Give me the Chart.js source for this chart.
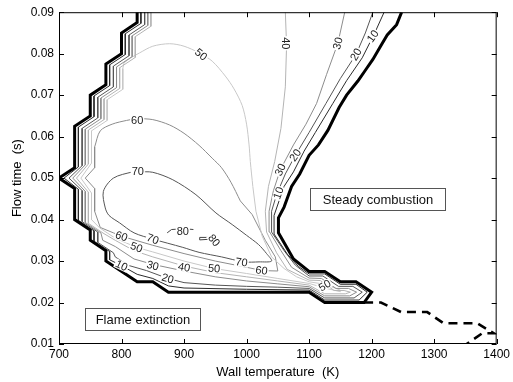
<!DOCTYPE html>
<html lang="en">
<head>
<meta charset="UTF-8" />
<title>Flow time vs wall temperature</title>
<script src="https://cdn.jsdelivr.net/npm/chart.js@4.4.1/dist/chart.umd.min.js"></script>
<style>
  html, body { margin: 0; padding: 0; background: #fff; }
  #chart { display: block; }
</style>
</head>
<body>
<canvas id="chart" width="513" height="382"></canvas>
<script>
  // axis ticks
  let xTicks = [700, 800, 900, 1000, 1100, 1200, 1300, 1400];
  let xTickLabels = ["700", "800", "900", "1000", "1100", "1200", "1300", "1400"];
  let yTicks = [0.01, 0.02, 0.03, 0.04, 0.05, 0.06, 0.07, 0.08, 0.09];
  let yTickLabels = ["0.01", "0.02", "0.03", "0.04", "0.05", "0.06", "0.07", "0.08", "0.09"];

  // extinction boundary (thick solid)
  let bndT = [825, 825, 800, 800, 775, 775, 750, 750, 725, 725, 700, 725, 725, 750, 750, 775, 775, 825, 850, 875,
    1100, 1125, 1188, 1200, 1175, 1150, 1125, 1100, 1075, 1051, 1051, 1060, 1072, 1085, 1100, 1115, 1130, 1148, 1160, 1178,
    1190, 1202, 1215, 1225, 1240, 1248];
  let bndY = [0.09, 0.0875, 0.085, 0.080, 0.0775, 0.0725, 0.070, 0.065, 0.0625, 0.0525, 0.050, 0.0475, 0.040, 0.0375, 0.035, 0.0325, 0.030, 0.025, 0.025, 0.0225,
    0.0225, 0.020, 0.020, 0.0225, 0.025, 0.025, 0.0275, 0.0275, 0.0305, 0.0368, 0.0404, 0.043, 0.048, 0.051, 0.0555, 0.058, 0.0615, 0.067, 0.070, 0.0734,
    0.076, 0.0786, 0.082, 0.0845, 0.087, 0.09];

  // dashed continuation
  let dashT = [1188, 1215, 1247, 1289, 1315, 1369, 1395, 1377, 1352];
  let dashY = [0.020, 0.020, 0.0177, 0.0177, 0.015, 0.015, 0.0126, 0.0126, 0.010];

  // contour levels
  let c10T = [831, 831, 806, 806, 781, 781, 756, 756, 731, 731, 708, 731, 731, 756, 756, 781, 781, 800, 825, 850,
    875, 900, 1000, 1100, 1125, 1180, 1193, 1175, 1150, 1125, 1100, 1083, 1065, 1044, 1044, 1052, 1060, 1075, 1092, 1110,
    1138, 1160, 1185, 1205, 1220];
  let c10Y = [0.09, 0.0873, 0.0848, 0.0798, 0.0773, 0.0723, 0.0698, 0.0648, 0.0623, 0.0527, 0.050, 0.0473, 0.0398, 0.0373, 0.0348, 0.0323, 0.0303, 0.0289, 0.0268, 0.0258,
    0.0240, 0.0235, 0.0232, 0.0230, 0.0206, 0.0206, 0.0225, 0.0244, 0.0244, 0.0269, 0.0269, 0.0287, 0.0317, 0.0365, 0.041, 0.0445, 0.048, 0.0515, 0.0565, 0.061,
    0.068, 0.0735, 0.079, 0.085, 0.09];

  let c20T = [837, 837, 812, 812, 787, 787, 762, 762, 737, 737, 716, 737, 737, 762, 762, 787, 790, 810, 840, 874,
    900, 950, 1000, 1050, 1100, 1125, 1172, 1185, 1170, 1147, 1122, 1100, 1078, 1060, 1040, 1040, 1048, 1062, 1078, 1100,
    1127, 1150, 1175, 1190, 1202];
  let c20Y = [0.09, 0.0870, 0.0845, 0.0795, 0.0770, 0.0720, 0.0695, 0.0645, 0.0620, 0.0530, 0.050, 0.0470, 0.0395, 0.0370, 0.0345, 0.0320, 0.031, 0.029, 0.0277, 0.0258,
    0.0248, 0.0242, 0.0239, 0.0237, 0.0234, 0.0211, 0.0211, 0.0225, 0.0239, 0.0239, 0.0264, 0.0264, 0.029, 0.0325, 0.037, 0.042, 0.046, 0.051, 0.0555, 0.061,
    0.068, 0.074, 0.0798, 0.085, 0.09];

  let c30T = [842, 842, 817, 817, 792, 792, 767, 767, 742, 742, 722, 742, 742, 767, 770, 790, 820, 850, 900, 950,
    1000, 1050, 1100, 1125, 1165, 1176, 1163, 1143, 1120, 1100, 1072, 1055, 1037, 1036, 1043, 1054, 1075, 1095, 1112, 1128,
    1146, 1157];
  let c30Y = [0.09, 0.0868, 0.0843, 0.0793, 0.0768, 0.0718, 0.0693, 0.0643, 0.0618, 0.0532, 0.050, 0.0468, 0.0393, 0.0368, 0.035, 0.0335, 0.0305, 0.0292, 0.0276, 0.0262,
    0.0252, 0.0245, 0.0238, 0.0216, 0.0216, 0.0225, 0.0234, 0.0234, 0.0258, 0.0259, 0.0285, 0.0325, 0.037, 0.042, 0.047, 0.052, 0.058, 0.063, 0.068, 0.075,
    0.0825, 0.09];

  let c40T = [847, 847, 822, 822, 797, 797, 772, 772, 747, 747, 728, 747, 747, 772, 790, 820, 850, 900, 950, 1000,
    1050, 1100, 1125, 1158, 1166, 1156, 1140, 1118, 1100, 1065, 1048, 1032, 1030, 1035, 1045, 1055, 1062, 1064, 1062];
  let c40Y = [0.09, 0.0866, 0.0841, 0.0791, 0.0766, 0.0716, 0.0691, 0.0641, 0.0616, 0.0534, 0.050, 0.0466, 0.0391, 0.0366, 0.035, 0.0325, 0.031, 0.0288, 0.0272, 0.0262,
    0.0252, 0.0242, 0.0221, 0.0221, 0.0225, 0.0229, 0.0229, 0.0253, 0.0254, 0.028, 0.032, 0.037, 0.042, 0.048, 0.054, 0.062, 0.072, 0.082, 0.09];

  let c50T = [804, 802, 802, 777, 777, 752, 752, 735, 752, 752, 765, 790, 824, 850, 900, 948, 1000, 1050, 1100, 1125,
    1150, 1150, 1125, 1100, 1080, 1060, 1040, 1025, 1015, 1010];
  let c50Y = [0.0778, 0.0764, 0.0714, 0.0689, 0.0639, 0.0614, 0.0536, 0.050, 0.0464, 0.040, 0.038, 0.0355, 0.0333, 0.0322, 0.030, 0.0282, 0.027, 0.0258, 0.0246, 0.0235,
    0.0226, 0.0230, 0.0244, 0.0250, 0.0262, 0.0282, 0.031, 0.036, 0.042, 0.048];
  let arc50T = [1010, 1006, 1004, 1000, 993, 980, 966, 945, 924, 900, 877, 850, 829, 815, 804];
  let arc50Y = [0.048, 0.054, 0.058, 0.063, 0.0675, 0.0715, 0.0746, 0.0782, 0.0802, 0.0818, 0.0824, 0.0818, 0.0802, 0.079, 0.0778];

  let c60T = [757, 757, 742, 757, 757, 766, 787, 800, 850, 900, 950, 1000, 1025, 1050, 1046, 1030, 1009, 990];
  let c60Y = [0.0575, 0.0525, 0.050, 0.0475, 0.042, 0.0381, 0.0368, 0.036, 0.0338, 0.0318, 0.0300, 0.0285, 0.0277, 0.0276, 0.031, 0.035, 0.0412, 0.0445];
  let arc60T = [990, 975, 960, 945, 924, 900, 877, 850, 825, 808, 785, 766, 757];
  let arc60Y = [0.0445, 0.049, 0.0525, 0.0548, 0.0579, 0.0608, 0.0628, 0.0641, 0.0643, 0.0639, 0.063, 0.0614, 0.0575];

  let c70T = [826, 850, 882, 919, 951, 977, 1000, 1019, 1032, 1040, 1020, 996, 960, 924, 898, 850, 820, 797, 780, 774, 771, 787, 818, 826];
  let c70Y = [0.0515, 0.0514, 0.0496, 0.046, 0.0416, 0.0388, 0.0362, 0.034, 0.0318, 0.0300, 0.0298, 0.0298, 0.031, 0.0321, 0.0333, 0.0353, 0.0368, 0.0392, 0.041, 0.0428, 0.0468, 0.050, 0.0515, 0.0515];

  let c80aT = [873, 880, 900, 915];
  let c80aY = [0.0368, 0.0376, 0.0378, 0.0376];
  let c80bT = [925, 925, 940, 945, 925];
  let c80bY = [0.0351, 0.0357, 0.0357, 0.0353, 0.0351];

  // inline contour labels
  let labelText = ["50", "40", "30", "20", "10", "60", "70", "20", "30", "10", "80", "80", "60", "70", "50", "10", "30", "20", "40", "50", "70", "60", "50"];
  let labelT = [927, 1063, 1146, 1175, 1202, 825, 826, 1078, 1054, 1051, 898, 948, 800, 850, 824, 800, 850, 874, 900, 948, 992, 1024, 1125];
  let labelY = [0.0798, 0.0825, 0.0825, 0.0798, 0.0842, 0.0639, 0.0515, 0.0555, 0.052, 0.0464, 0.0372, 0.035, 0.036, 0.0353, 0.0333, 0.0289, 0.0289, 0.0258, 0.0285, 0.0282, 0.0297, 0.0277, 0.0241];
  let labelAngle = [40, 90, -75, -60, -55, 0, 0, -55, -65, -70, 0, 50, 20, 20, 20, 25, 15, 15, 10, 5, 8, 8, -30];

  // region boxes
  let boxText = ["Steady combustion", "Flame extinction"];
  let boxT0 = [1101, 741];
  let boxT1 = [1318, 925];
  let boxY0 = [0.0476, 0.0187];
  let boxY1 = [0.0422, 0.0133];

  function pts(ts, ys) {
    return ts.map((t, i) => ({ x: t, y: ys[i] }));
  }

  function line(ts, ys, color, width, tension, dash) {
    return {
      data: pts(ts, ys),
      showLine: true,
      borderColor: color,
      borderWidth: width,
      pointRadius: 0,
      tension: tension || 0,
      borderDash: dash || [],
      borderJoinStyle: "miter",
      fill: false,
    };
  }

  const FONT = "'Liberation Sans', Arial, Helvetica, sans-serif";

  let overlay = {
    id: "overlay",
    afterDatasetsDraw(chart) {
      const { ctx, scales: { x, y } } = chart;
      ctx.save();
      ctx.beginPath();
      ctx.rect(chart.chartArea.left, chart.chartArea.top, chart.chartArea.width, chart.chartArea.height);
      ctx.clip();
      ctx.font = "11px " + FONT;
      ctx.textAlign = "center";
      ctx.textBaseline = "middle";
      labelText.forEach((txt, i) => {
        const px = x.getPixelForValue(labelT[i]);
        const py = y.getPixelForValue(labelY[i]);
        const w = ctx.measureText(txt).width;
        ctx.save();
        ctx.translate(px, py);
        ctx.rotate((labelAngle[i] * Math.PI) / 180);
        ctx.fillStyle = "#fff";
        ctx.fillRect(-w / 2 - 1, -4.5, w + 2, 9);
        ctx.fillStyle = "#222";
        ctx.fillText(txt, 0, 0.5);
        ctx.restore();
      });

      ctx.font = "13px " + FONT;
      boxText.forEach((txt, i) => {
        const l = Math.round(x.getPixelForValue(boxT0[i])) + 0.5;
        const r = Math.round(x.getPixelForValue(boxT1[i])) + 0.5;
        const t = Math.round(y.getPixelForValue(boxY0[i])) + 0.5;
        const b = Math.round(y.getPixelForValue(boxY1[i])) + 0.5;
        ctx.fillStyle = "#fff";
        ctx.fillRect(l, t, r - l, b - t);
        ctx.strokeStyle = "#555";
        ctx.lineWidth = 1;
        ctx.strokeRect(l, t, r - l, b - t);
        ctx.fillStyle = "#111";
        ctx.fillText(txt, (l + r) / 2, (t + b) / 2 + 0.5);
      });
      ctx.restore();
    },
    afterDraw(chart) {
      const { ctx, chartArea: a, scales: { x, y } } = chart;
      ctx.save();
      ctx.strokeStyle = "#000";
      ctx.lineWidth = 1;
      ctx.strokeRect(a.left + 0.5, a.top + 0.5, a.width - 1, a.height - 1);
      ctx.beginPath();
      xTicks.forEach((v) => {
        const px = Math.round(x.getPixelForValue(v)) + 0.5;
        ctx.moveTo(px, a.bottom);
        ctx.lineTo(px, a.bottom - 5);
        ctx.moveTo(px, a.top);
        ctx.lineTo(px, a.top + 5);
      });
      yTicks.forEach((v) => {
        const py = Math.round(y.getPixelForValue(v)) + 0.5;
        ctx.moveTo(a.left, py);
        ctx.lineTo(a.left + 5, py);
        ctx.moveTo(a.right, py);
        ctx.lineTo(a.right - 5, py);
      });
      ctx.stroke();
      ctx.restore();
    },
  };

  let config = {
    type: "scatter",
    data: {
      datasets: [
        line(bndT, bndY, "#000", 3),
        line(dashT, dashY, "#000", 2.6, 0, [9, 6]),
        line(c10T, c10Y, "#2b2b2b", 1),
        line(c20T, c20Y, "#555", 1),
        line(c30T, c30Y, "#8c8c8c", 1),
        line(c40T, c40Y, "#b4b4b4", 1),
        line(c50T, c50Y, "#c8c8c8", 1),
        line(arc50T, arc50Y, "#c8c8c8", 1, 0.3),
        line(c60T, c60Y, "#8c8c8c", 1),
        line(arc60T, arc60Y, "#8c8c8c", 1, 0.3),
        line(c70T, c70Y, "#555", 1, 0.3),
        line(c80aT, c80aY, "#444", 1),
        line(c80bT, c80bY, "#444", 1),
      ],
    },
    options: {
      responsive: false,
      animation: false,
      devicePixelRatio: 1,
      layout: { padding: { top: 9, right: 13, left: 0, bottom: 0 } },
      plugins: { legend: { display: false }, tooltip: { enabled: false } },
      scales: {
        x: {
          type: "linear",
          min: 700,
          max: 1400,
          afterBuildTicks: (s) => { s.ticks = xTicks.map((v) => ({ value: v })); },
          afterFit: (s) => { s.height = 38; },
          grid: { display: false, drawTicks: false },
          border: { display: false },
          ticks: {
            autoSkip: false,
            maxRotation: 0,
            padding: 3,
            color: "#000",
            font: { size: 12, family: FONT },
            callback: (v, i) => xTickLabels[i],
          },
          title: { display: true, text: "Wall temperature  (K)", color: "#000", font: { size: 13, family: FONT }, padding: { top: 0, bottom: 2 } },
        },
        y: {
          type: "linear",
          min: 0.01,
          max: 0.09,
          afterBuildTicks: (s) => { s.ticks = yTicks.map((v) => ({ value: v })); },
          afterFit: (s) => { s.width = 59; },
          grid: { display: false, drawTicks: false },
          border: { display: false },
          ticks: {
            autoSkip: false,
            padding: 5,
            color: "#000",
            font: { size: 12, family: FONT },
            callback: (v, i) => yTickLabels[i],
          },
          title: { display: true, text: "Flow time  (s)", color: "#000", font: { size: 13, family: FONT }, padding: { top: 10, bottom: 0 } },
        },
      },
    },
    plugins: [overlay],
  };

  let myChart = new Chart(document.getElementById("chart"), config);
</script>
</body>
</html>
